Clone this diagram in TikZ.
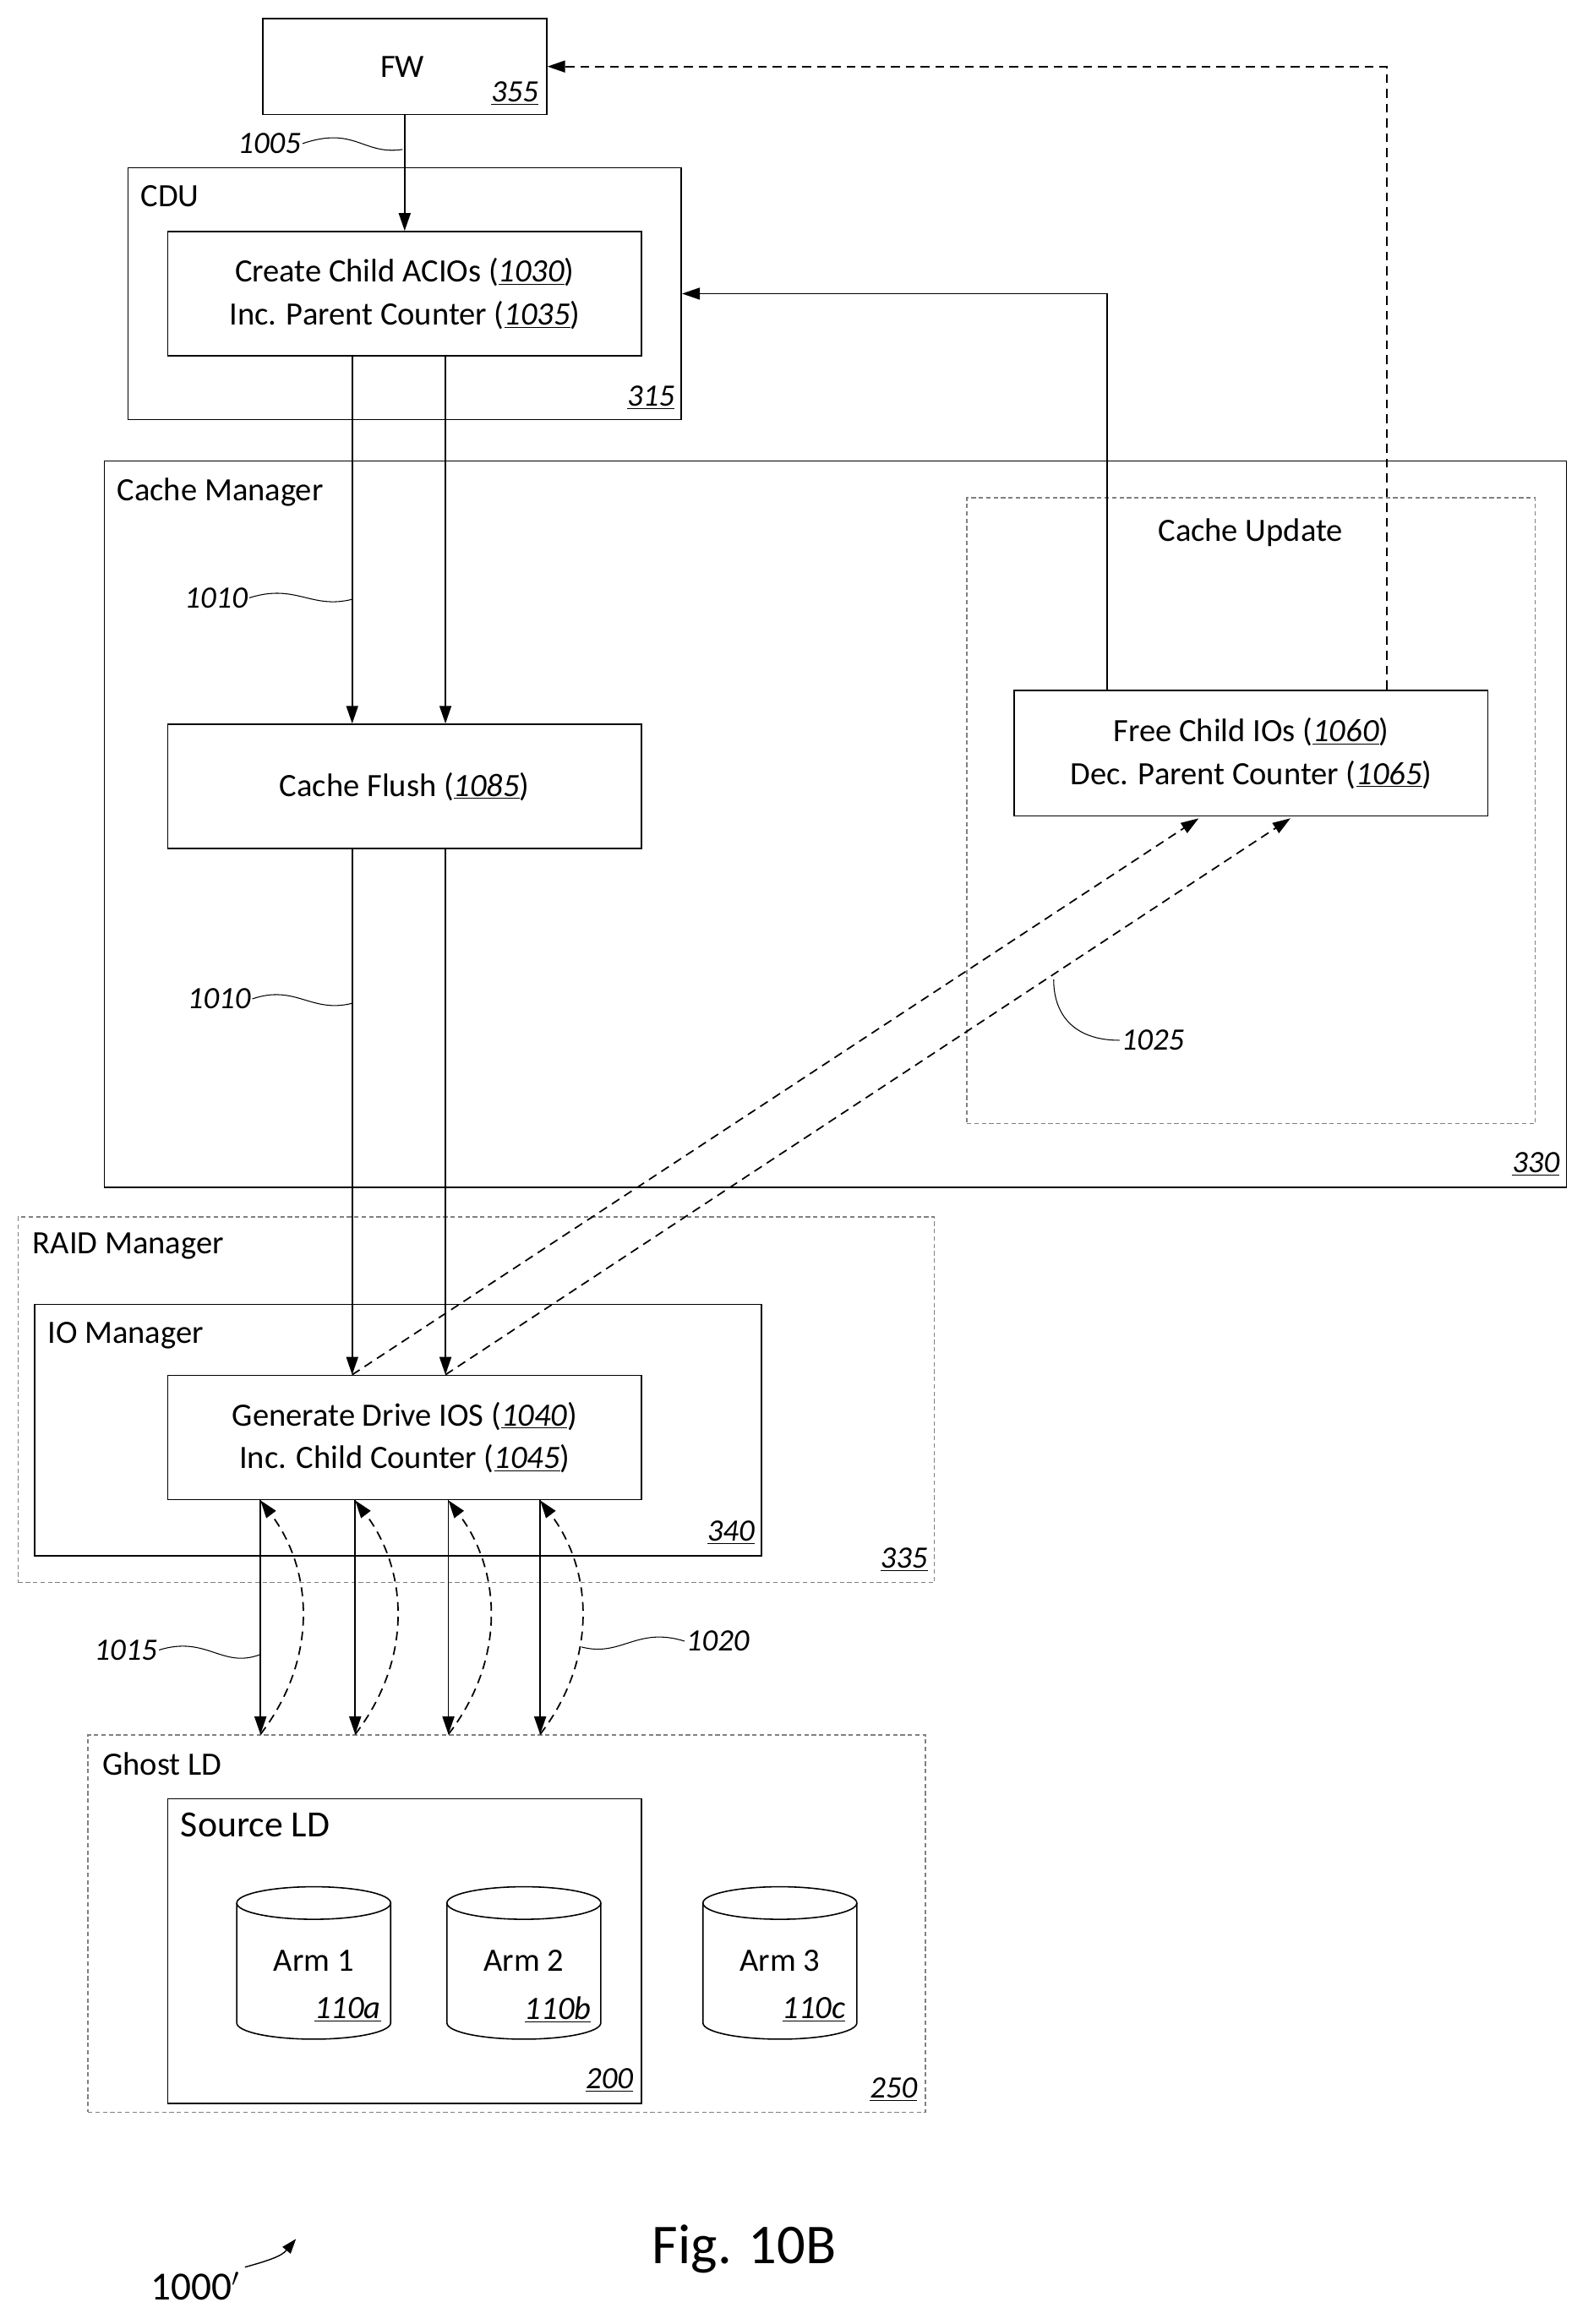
\documentclass[tikz,border=0pt]{standalone}
\usepackage{fontspec}
\setmainfont{Carlito}
\usetikzlibrary{arrows.meta}
\begin{document}
\begin{tikzpicture}[x=1pt,y=-1pt,
  every node/.style={font=\fontsize{22}{29}\selectfont},
  box/.style={draw, line width=0.9pt, inner sep=0, anchor=north west},
  dbox/.style={draw=gray, line width=0.8pt, dash pattern=on 3pt off 2pt, inner sep=0, anchor=north west},
  lbl/.style={anchor=north west, inner sep=0},
  num/.style={anchor=south east, inner sep=0, font=\fontsize{21}{24}\selectfont\itshape},
  ref/.style={inner sep=1pt, font=\fontsize{21}{24}\selectfont\itshape},
  arr/.style={line width=1pt, -{Triangle[length=12pt,width=8pt]}},
  darr/.style={arr, dash pattern=on 6pt off 4pt},
  sq/.style={line width=0.6pt}]
\newcommand{\un}[1]{\underline{#1}}
\useasboundingbox (0,0) rectangle (1073,1570.5);
% boxes
\node[box, minimum width=192, minimum height=65] (fw) at (177,12) {};
\node at (272,45) (fwt) {FW};
\node[num] (n355) at (364,71) {\un{355}};
\node[box, minimum width=374, minimum height=170] (cdu) at (86,113) {};
\node[lbl] (cdut) at (95,125) {CDU};
\node[num] (n315) at (456,277) {\un{315}};
\node[box, minimum width=320, minimum height=84, align=center] (create) at (113,156) {Create Child ACIOs (\textit{\un{1030}})\\Inc. Parent Counter (\textit{\un{1035}})};
\node[box, minimum width=988, minimum height=491] (cm) at (70,311) {};
\node[lbl] (cmt) at (79,323) {Cache Manager};
\node[num] (n330) at (1054,795) {\un{330}};
\node[dbox, minimum width=384, minimum height=423] (cu) at (653,336) {};
\node (cut) at (845,360) {Cache Update};
\node[box, minimum width=320, minimum height=85, align=center] (free) at (685,466) {Free Child IOs (\textit{\un{1060}})\\Dec. Parent Counter (\textit{\un{1065}})};
\node[box, minimum width=320, minimum height=84] (flush) at (113,489) {Cache Flush (\textit{\un{1085}})};
\node[dbox, minimum width=619, minimum height=247] (raid) at (12,822) {};
\node[lbl] (raidt) at (22,833) {RAID Manager};
\node[num] (n335) at (627,1062) {\un{335}};
\node[box, minimum width=491, minimum height=170] (iom) at (23,881) {};
\node[lbl] (iomt) at (32,893) {IO Manager};
\node[num] (n340) at (510,1044) {\un{340}};
\node[box, minimum width=320, minimum height=84, align=center] (gen) at (113,929) {Generate Drive IOS (\textit{\un{1040}})\\Inc. Child Counter (\textit{\un{1045}})};
\node[dbox, minimum width=566, minimum height=255] (ghost) at (59,1172) {};
\node[lbl] (ghostt) at (69,1184) {Ghost LD};
\node[num] (n250) at (620,1420) {\un{250}};
\node[box, minimum width=320, minimum height=206] (src) at (113,1215) {};
\node[lbl, font=\fontsize{25}{28}\selectfont] (srct) at (122,1225) {Source LD};
\node[num] (n200) at (428,1414) {\un{200}};
% cylinders
\foreach \cx/\nm/\id in {212/Arm 1/110a, 354/Arm 2/110b, 527/Arm 3/110c}{
  \draw[line width=0.9pt] (\cx-52,1286) -- (\cx-52,1367) arc[start angle=180,end angle=360,x radius=52,y radius=-11] -- (\cx+52,1286);
  \draw[line width=0.9pt] (\cx,1286) ellipse[x radius=52, y radius=11];
  \node at (\cx,1325) {\nm};
  \node[ref, font=\fontsize{22}{24}\selectfont\itshape] at (\cx+23,1358) {\un{\id}};
}
% x positions
\coordinate (xa) at (238,0); \coordinate (xb) at (301,0);
\coordinate (xu) at (748,0); \coordinate (xd) at (937,0);
% arrows
\draw[arr] (fw.south) -- (create.north);
\draw[arr] (create.south -| xa) -- (flush.north -| xa);
\draw[arr] (create.south -| xb) -- (flush.north -| xb);
\draw[arr] (flush.south -| xa) -- (gen.north -| xa);
\draw[arr] (flush.south -| xb) -- (gen.north -| xb);
\draw[arr] (free.north -| xu) |- (cdu.east);
\draw[darr] (free.north -| xd) |- (fw.east);
\coordinate (fa) at (810,553); \coordinate (fb) at (872,553);
\draw[darr] (gen.north -| xa) -- (fa);
\draw[darr] (gen.north -| xb) -- (fb);
\foreach \x [count=\i] in {176,240,303,365}{
  \coordinate (b\i) at (\x,0);
  \draw[arr] (gen.south -| b\i) -- (ghost.north -| b\i);
  \draw[darr] (ghost.north -| b\i) .. controls (\x+40,1120) and (\x+35,1060) .. (gen.south -| b\i);
}
% labels with squiggles
\node[ref] (l1005) at (182,97) {1005};
\draw[sq] (l1005.east) .. controls (240,85) and (245,105) .. (272,101);
\node[ref] (l1010a) at (146,404) {1010};
\draw[sq] (l1010a.east) .. controls (200,394) and (210,412) .. (238,405);
\node[ref] (l1010b) at (148,675) {1010};
\draw[sq] (l1010b.east) .. controls (200,665) and (210,685) .. (238,678);
\node[ref] (l1015) at (85,1115) {1015};
\draw[sq] (l1015.east) .. controls (140,1105) and (150,1128) .. (176,1118);
\node[ref] (l1020) at (485,1109) {1020};
\draw[sq] (l1020.west) .. controls (430,1099) and (420,1120) .. (393,1113);
\node[ref] (l1025) at (779,703) {1025};
\draw[sq] (l1025.west) .. controls (725,703) and (712,685) .. (712,662);
\node[font=\fontsize{38}{42}\selectfont] (fig) at (503,1520) {Fig. 10B};
\node[font=\fontsize{27}{30}\selectfont] (l1000) at (132,1545) {1000$'$};
\draw[arr, line width=0.8pt, -{Triangle[length=10pt,width=7pt]}] (l1000.north east) .. controls (180,1528) and (190,1525) .. (200,1513);
\end{tikzpicture}
\end{document}
